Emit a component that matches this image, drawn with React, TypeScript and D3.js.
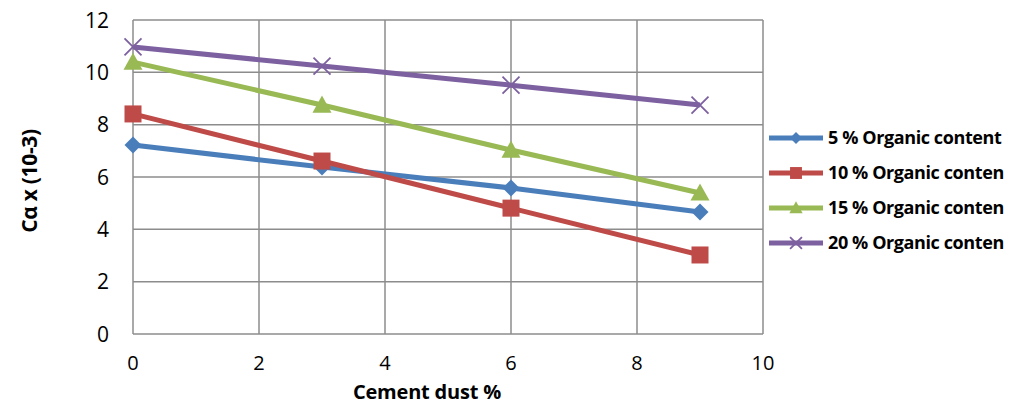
import React, { useEffect, useRef } from 'react';
import * as d3 from 'd3';

const xValues = [0, 3, 6, 9];
const seriesNames = ['5 % Organic content', '10 % Organic conten', '15 % Organic conten', '20 % Organic conten'];
const organic5 = [7.22, 6.38, 5.58, 4.66];
const organic10 = [8.41, 6.61, 4.81, 3.02];
const organic15 = [10.39, 8.75, 7.03, 5.39];
const organic20 = [10.97, 10.24, 9.51, 8.75];
const xTicks = [0, 2, 4, 6, 8, 10];
const yTicks = [0, 2, 4, 6, 8, 10, 12];

const colors = ['#4a7ebb', '#be4b48', '#98b954', '#7d60a0'];
const markers = ['diamond', 'square', 'triangle', 'cross'];

const App = () => {
  const svgRef = useRef<SVGSVGElement>(null);

  useEffect(() => {
    if (!svgRef.current) return;
    const svg = d3.select(svgRef.current);
    svg.selectAll('*').remove();

    const font = "'Open Sans', sans-serif";
    const left = 133, right = 763, top = 20, bottom = 334;

    const x = d3.scaleLinear().domain([0, 10]).range([left, right]);
    const y = d3.scaleLinear().domain([0, 12]).range([bottom, top]);

    // grid
    const grid = svg.append('g').attr('stroke', '#8c8c8c').attr('stroke-width', 1.5);
    yTicks.forEach(t => {
      grid.append('line').attr('x1', left).attr('x2', right).attr('y1', y(t)).attr('y2', y(t));
    });
    xTicks.forEach(t => {
      grid.append('line').attr('x1', x(t)).attr('x2', x(t)).attr('y1', top).attr('y2', bottom);
    });

    // tick labels
    svg.append('g').selectAll('text').data(yTicks).join('text')
      .attr('x', 109).attr('y', d => y(d)).attr('dy', '0.36em')
      .attr('text-anchor', 'end').attr('font-family', font).attr('font-size', 21)
      .text(d => d);
    svg.append('g').selectAll('text').data(xTicks).join('text')
      .attr('x', d => x(d)).attr('y', 363).attr('dy', '0.36em')
      .attr('text-anchor', 'middle').attr('font-family', font).attr('font-size', 20)
      .text(d => d);

    // axis titles
    svg.append('text').attr('x', 427).attr('y', 399)
      .attr('text-anchor', 'middle').attr('font-family', font).attr('font-size', 20)
      .attr('font-weight', 'bold').attr('letter-spacing', -0.2).text('Cement dust %');
    svg.append('text').attr('transform', 'translate(29,181) rotate(-90)').attr('dy', '0.36em')
      .attr('text-anchor', 'middle').attr('font-family', font).attr('font-size', 21)
      .attr('font-weight', 'bold').attr('letter-spacing', -0.3).text('Cα x (10-3)');

    const drawMarker = (g: any, kind: string, cx: number, cy: number, color: string, scale = 1) => {
      if (kind === 'diamond') {
        const s = 8.5 * scale;
        g.append('path').attr('d', `M${cx},${cy - s}L${cx + s},${cy}L${cx},${cy + s}L${cx - s},${cy}Z`).attr('fill', color);
      } else if (kind === 'square') {
        const s = 8.5 * scale;
        g.append('rect').attr('x', cx - s).attr('y', cy - s).attr('width', 2 * s).attr('height', 2 * s).attr('fill', color);
      } else if (kind === 'triangle') {
        const s = 9.5 * scale;
        g.append('path').attr('d', `M${cx},${cy - s}L${cx + s},${cy + s * 0.8}L${cx - s},${cy + s * 0.8}Z`).attr('fill', color);
      } else {
        const s = 8.5 * scale;
        g.append('path').attr('d', `M${cx - s},${cy - s}L${cx + s},${cy + s}M${cx - s},${cy + s}L${cx + s},${cy - s}`)
          .attr('stroke', color).attr('stroke-width', 1.8).attr('fill', 'none');
      }
    };

    const allSeries = [organic5, organic10, organic15, organic20];
    const line = d3.line<number>().x((_, i) => x(xValues[i])).y(d => y(d));

    allSeries.forEach((vals, si) => {
      const g = svg.append('g');
      g.append('path').attr('d', line(vals)).attr('fill', 'none')
        .attr('stroke', colors[si]).attr('stroke-width', 5);
      vals.forEach((v, i) => drawMarker(g, markers[si], x(xValues[i]), y(v), colors[si]));
    });

    // legend
    const legend = svg.append('g');
    seriesNames.forEach((name, i) => {
      const ly = 138 + i * 35;
      legend.append('line').attr('x1', 769).attr('x2', 823).attr('y1', ly).attr('y2', ly)
        .attr('stroke', colors[i]).attr('stroke-width', 5);
      drawMarker(legend, markers[i], 796, ly, colors[i], 0.7);
      legend.append('text').attr('x', 828).attr('y', ly).attr('dy', '0.36em')
        .attr('font-family', font).attr('font-size', 18).attr('font-weight', 'bold')
        .attr('letter-spacing', -0.4).text(name);
    });
  }, []);

  return (
    <div>
      <svg ref={svgRef} width={1013} height={405} style={{ position: 'absolute', left: 0, top: 0, background: '#fff' }}></svg>
    </div>
  );
};

export default App;
